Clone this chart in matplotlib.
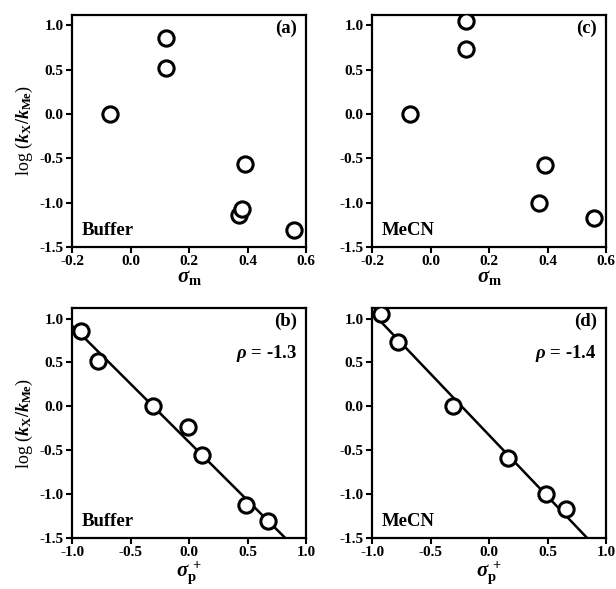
import matplotlib
matplotlib.use("Agg")
import matplotlib.pyplot as plt
import numpy as np

# panel (a): log(kX/kMe) vs sigma_m, buffer
sig_m_buf = [-0.07, 0.12, 0.12, 0.39, 0.37, 0.38, 0.56]
logk_a = [0.0, 0.86, 0.52, -0.56, -1.14, -1.07, -1.31]

# panel (c): sigma_m, MeCN
sig_m_mecn = [-0.07, 0.12, 0.12, 0.39, 0.37, 0.56]
logk_c = [0.0, 1.05, 0.73, -0.58, -1.0, -1.17]

# panel (b): sigma_p+, buffer
sig_p_buf = [-0.92, -0.78, -0.31, -0.01, 0.11, 0.49, 0.67]
logk_b = [0.86, 0.52, 0.0, -0.24, -0.56, -1.13, -1.31]
fit_b = (-1.33, -0.41)   # slope, intercept

# panel (d): sigma_p+, MeCN
sig_p_mecn = [-0.92, -0.78, -0.31, 0.16, 0.49, 0.66]
logk_d = [1.05, 0.73, 0.0, -0.59, -1.0, -1.17]
fit_d = (-1.40, -0.33)

plt.rcParams["font.family"] = ["Liberation Serif", "DejaVu Serif"]
plt.rcParams["font.weight"] = "bold"
plt.rcParams["mathtext.fontset"] = "custom"
plt.rcParams["mathtext.rm"] = "Liberation Serif:bold"
plt.rcParams["mathtext.it"] = "Liberation Serif:bold:italic"
plt.rcParams["mathtext.bf"] = "Liberation Serif:bold"
plt.rcParams["axes.unicode_minus"] = False

fig = plt.figure(figsize=(6.16, 5.89), dpi=100)
W = 0.380
pos = {
    "a": [0.117, 0.581, W, 0.394],
    "c": [0.604, 0.581, W, 0.394],
    "b": [0.117, 0.087, W, 0.390],
    "d": [0.604, 0.087, W, 0.390],
}

ylab = r"log ($\mathit{k}_\mathrm{X}/\mathit{k}_\mathrm{Me}$)"


def style(ax, xlim, xticks):
    ax.set_xlim(*xlim)
    ax.set_ylim(-1.5, 1.12)
    ax.set_xticks(xticks)
    ax.set_xticklabels([f"{t:.1f}" for t in xticks])
    ax.set_yticks([-1.5, -1.0, -0.5, 0.0, 0.5, 1.0])
    ax.set_yticklabels(["-1.5", "-1.0", "-0.5", "0.0", "0.5", "1.0"])
    ax.tick_params(direction="out", length=4, width=1.5, labelsize=11, pad=2)
    for s in ax.spines.values():
        s.set_linewidth(1.6)


def scatter(ax, x, y):
    ax.plot(x, y, "o", ms=11, mfc="white", mec="black", mew=2.2,
            linestyle="none", zorder=3)


panels = [
    ("a", sig_m_buf, logk_a, None, "Buffer", True, r"$\sigma_\mathrm{m}$"),
    ("c", sig_m_mecn, logk_c, None, "MeCN", False, r"$\sigma_\mathrm{m}$"),
    ("b", sig_p_buf, logk_b, fit_b, "Buffer", True, r"$\sigma_\mathrm{p}^{\,+}$"),
    ("d", sig_p_mecn, logk_d, fit_d, "MeCN", False, r"$\sigma_\mathrm{p}^{\,+}$"),
]

for key, x, y, fit, solvent, show_ylab, xlab in panels:
    ax = fig.add_axes(pos[key])
    if fit is None:
        style(ax, (-0.2, 0.6), [-0.2, 0.0, 0.2, 0.4, 0.6])
    else:
        style(ax, (-1.0, 1.0), [-1.0, -0.5, 0.0, 0.5, 1.0])
        xs = np.array([-1.0, 1.0])
        ax.plot(xs, fit[0] * xs + fit[1], color="black", lw=1.8, zorder=2)
        ax.text(0.96, 0.80, rf"$\rho$ = {fit[0]:.1f}", transform=ax.transAxes,
                ha="right", va="center", fontsize=13.5)
    scatter(ax, x, y)
    ax.text(0.96, 0.94, f"({key})", transform=ax.transAxes,
            ha="right", va="center", fontsize=13.5)
    ax.text(0.04, 0.07, solvent, transform=ax.transAxes,
            ha="left", va="center", fontsize=13.5)
    ax.set_xlabel(xlab, fontsize=15, labelpad=0)
    if show_ylab:
        ax.set_ylabel(ylab, fontsize=13, labelpad=3)

fig.savefig("out.png", dpi=100)
